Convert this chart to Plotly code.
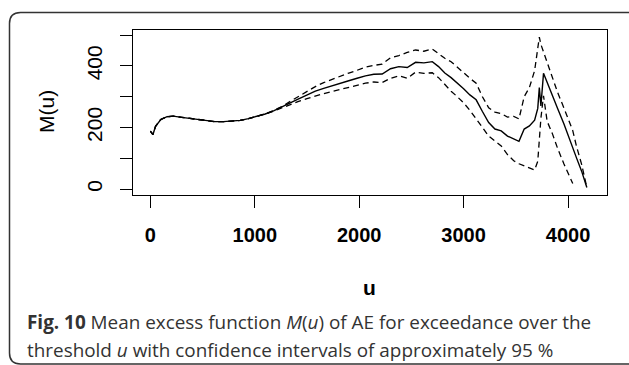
import plotly.graph_objects as go

# ---- data ----
u = [0, 25, 50, 100, 160, 220, 300, 380, 460, 540, 620, 700, 780, 860, 940,
     1020, 1100, 1180, 1260, 1340, 1420, 1500, 1580, 1660, 1740, 1820, 1900,
     1980, 2060, 2140, 2220, 2300, 2380, 2460, 2540, 2620, 2700, 2760, 2820,
     2880, 2940, 3000, 3060, 3120, 3180, 3240, 3300, 3360, 3420, 3480, 3530,
     3580, 3630, 3680, 3710, 3725, 3740, 3765, 3800, 3850, 3900, 3960, 4020,
     4045, 4080, 4130, 4180]

mean_excess = [188, 177, 204, 226, 235, 237, 233, 229, 225, 221, 219, 219, 220,
               223, 229, 236, 244, 254, 266, 280, 293, 306, 318, 327, 336, 345,
               352, 360, 368, 373, 374, 391, 398, 395, 412, 410, 414, 398, 377,
               362, 345, 326, 306, 290, 252, 216, 195, 189, 172, 163, 155, 195,
               205, 224, 262, 330, 270, 376, 345, 305, 262, 212, 160, 138, 102,
               58, 5]

upper_ci = [188, 177, 204, 226, 235, 237, 233, 229, 225, 221, 219, 219, 220,
            223, 229, 236, 244, 255, 268, 285, 301, 318, 333, 346, 357, 368,
            377, 386, 396, 402, 406, 427, 434, 444, 452, 448, 455, 440, 425,
            414, 395, 378, 360, 344, 300, 264, 250, 245, 234, 236, 228, 300,
            330, 385, 470, 494, 470, 445, 408, 362, 314, 264, 214, 190, 140,
            80, 5]

lower_ci = [188, 177, 204, 226, 235, 237, 233, 229, 225, 221, 219, 219, 220,
            223, 229, 236, 244, 253, 264, 275, 285, 294, 303, 310, 317, 324,
            330, 336, 344, 348, 346, 360, 368, 360, 380, 376, 378, 362, 340,
            318, 300, 280, 256, 230, 200, 172, 155, 140, 112, 92, 82, 75, 70,
            62, 90, 160, 230, 303, 220, 180, 132, 82, 35, 18, None, None, None]

x_ticks = [0, 1000, 2000, 3000, 4000]
y_ticks = [0, 100, 200, 300, 400, 500]
y_tick_text = ["0", "", "200", "", "400", ""]

# ---- layout geometry ----
W, H = 629, 365
L, R, T, B = 133, 22, 30, 170
PW, PH = W - L - R, H - T - B


def px(x):
    return (x - L) / PW


def py(y):
    return 1 - (y - T) / PH


fig = go.Figure()
fig.add_trace(go.Scatter(x=u, y=upper_ci, mode="lines",
                         line=dict(color="black", width=1.3, dash="6px,4px"),
                         hoverinfo="skip"))
fig.add_trace(go.Scatter(x=u, y=lower_ci, mode="lines",
                         line=dict(color="black", width=1.3, dash="6px,4px"),
                         hoverinfo="skip"))
fig.add_trace(go.Scatter(x=u, y=mean_excess, mode="lines",
                         line=dict(color="black", width=1.4),
                         hoverinfo="skip"))

axis_font = dict(family="Liberation Sans, Arial, sans-serif", color="black")

fig.update_layout(
    width=W, height=H,
    margin=dict(l=L, r=R, t=T, b=B),
    paper_bgcolor="white", plot_bgcolor="white",
    showlegend=False,
    xaxis=dict(range=[-166, 4373], tickvals=x_ticks, ticks="outside",
               ticklen=12, tickwidth=1, tickcolor="black",
               showline=True, mirror=True, linecolor="black", linewidth=1,
               showgrid=False, zeroline=False,
               tickfont=dict(size=20, weight="bold", **axis_font),
               ticklabelstandoff=10),
    yaxis=dict(range=[-19.5, 517], tickvals=y_ticks, ticktext=y_tick_text,
               ticks="outside", ticklen=12, tickwidth=1, tickcolor="black",
               showline=True, mirror=True, linecolor="black", linewidth=1,
               showgrid=False, zeroline=False, tickangle=-90,
               tickfont=dict(size=21, **axis_font),
               ticklabelstandoff=10),
)

# axis titles
fig.add_annotation(x=px(369), y=py(287), xref="paper", yref="paper",
                   xanchor="center", yanchor="middle",
                   text="<b>u</b>", showarrow=False,
                   font=dict(size=21, **axis_font))
fig.add_annotation(x=px(46), y=py(112), xref="paper", yref="paper",
                   xanchor="center", yanchor="middle",
                   text="M(u)", showarrow=False, textangle=-90,
                   font=dict(size=21, **axis_font))

# caption
cap_font = dict(family="Open Sans, sans-serif", size=18.9, color="#333333")
fig.add_annotation(x=px(25), y=py(322), xref="paper", yref="paper",
                   xanchor="left", yanchor="middle", showarrow=False,
                   text="<b>Fig. 10</b> Mean excess function <i>M</i>(<i>u</i>) of AE for exceedance over the",
                   font=cap_font)
fig.add_annotation(x=px(25), y=py(350), xref="paper", yref="paper",
                   xanchor="left", yanchor="middle", showarrow=False,
                   text="threshold <i>u</i> with confidence intervals of approximately 95 %",
                   font=cap_font)

# rounded frame around figure (right side runs off the picture)
r = 11
x0, y0, y1 = 9.5, 12.5, 364
path = (f"M {px(660)} {py(y0)} L {px(x0 + r)} {py(y0)} "
        f"Q {px(x0)} {py(y0)} {px(x0)} {py(y0 + r)} "
        f"L {px(x0)} {py(y1 - r)} Q {px(x0)} {py(y1)} {px(x0 + r)} {py(y1)} "
        f"L {px(660)} {py(y1)}")
fig.add_shape(type="path", path=path, xref="paper", yref="paper",
              line=dict(color="#333333", width=1.5))

fig.write_html("out.html")
